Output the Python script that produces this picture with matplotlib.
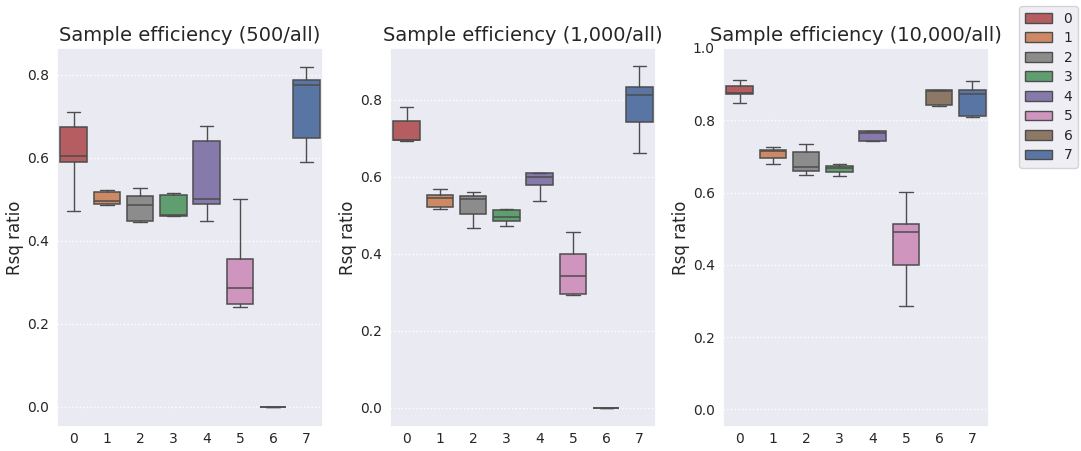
import matplotlib
matplotlib.use("Agg")
import matplotlib.pyplot as plt
import seaborn as sns
from matplotlib.patches import Patch

sns.set_theme(style="darkgrid")
plt.rcParams["font.family"] = ["DejaVu Sans"]

GROUPS = ["0", "1", "2", "3", "4", "5", "6", "7"]
TITLES = ["Sample efficiency (500/all)",
          "Sample efficiency (1,000/all)",
          "Sample efficiency (10,000/all)"]

# box summary per group: whisker low, q1, median, q3, whisker high
whislo_500 = [0.472, 0.485, 0.446, 0.459, 0.447, 0.240, 0.0, 0.590]
q1_500 = [0.589, 0.489, 0.447, 0.460, 0.488, 0.248, 0.0, 0.647]
med_500 = [0.604, 0.496, 0.486, 0.461, 0.501, 0.286, 0.0, 0.775]
q3_500 = [0.674, 0.517, 0.508, 0.510, 0.641, 0.356, 0.0, 0.787]
whishi_500 = [0.711, 0.522, 0.527, 0.514, 0.676, 0.501, 0.0, 0.819]

whislo_1k = [0.694, 0.518, 0.467, 0.472, 0.537, 0.294, 0.0, 0.662]
q1_1k = [0.695, 0.521, 0.503, 0.486, 0.580, 0.295, 0.0, 0.742]
med_1k = [0.695, 0.546, 0.542, 0.497, 0.601, 0.343, 0.0, 0.814]
q3_1k = [0.745, 0.553, 0.550, 0.514, 0.610, 0.399, 0.0, 0.834]
whishi_1k = [0.783, 0.570, 0.560, 0.518, 0.611, 0.458, 0.0, 0.887]

whislo_10k = [0.848, 0.680, 0.650, 0.645, 0.743, 0.286, 0.840, 0.810]
q1_10k = [0.873, 0.696, 0.660, 0.657, 0.744, 0.399, 0.842, 0.811]
med_10k = [0.876, 0.714, 0.671, 0.667, 0.765, 0.491, 0.882, 0.873]
q3_10k = [0.895, 0.719, 0.713, 0.673, 0.769, 0.514, 0.883, 0.883]
whishi_10k = [0.912, 0.725, 0.734, 0.678, 0.771, 0.602, 0.884, 0.910]

deep = sns.color_palette("deep")
palette = [deep[i] for i in [3, 1, 7, 2, 4, 6, 5, 0]]
palette = [sns.desaturate(c, 0.75) for c in palette]

panels = [
    (whislo_500, q1_500, med_500, q3_500, whishi_500, (-0.049, 0.865)),
    (whislo_1k, q1_1k, med_1k, q3_1k, whishi_1k, (-0.049, 0.935)),
    (whislo_10k, q1_10k, med_10k, q3_10k, whishi_10k, (-0.048, 1.0)),
]
lefts = [0.0527, 0.3608, 0.6688]

fig = plt.figure(figsize=(10.81, 4.51), dpi=100)
line_col = "0.3"
for k, (lo, q1, med, q3, hi, ylim) in enumerate(panels):
    ax = fig.add_axes([lefts[k], 0.0536, 0.2461, 0.8400])
    stats = [dict(whislo=lo[i], q1=q1[i], med=med[i], q3=q3[i], whishi=hi[i],
                  fliers=[], label=GROUPS[i]) for i in range(len(GROUPS))]
    bp = ax.bxp(stats, positions=range(len(GROUPS)), widths=0.8,
                patch_artist=True, showfliers=False,
                boxprops=dict(edgecolor=line_col, linewidth=1.1),
                medianprops=dict(color=line_col, linewidth=1.1),
                whiskerprops=dict(color=line_col, linewidth=1.0),
                capprops=dict(color=line_col, linewidth=1.0))
    for patch, c in zip(bp["boxes"], palette):
        patch.set_facecolor(c)
    for cap in bp["caps"]:
        x0, x1 = cap.get_xdata()
        mid = (x0 + x1) / 2
        cap.set_xdata([mid - 0.2, mid + 0.2])
    ax.set_xlim(-0.5, 7.5)
    ax.set_ylim(*ylim)
    ax.set_xticks(range(len(GROUPS)))
    ax.set_xticklabels(GROUPS)
    ax.grid(axis="x", visible=False)
    ax.grid(axis="y", linestyle=":", color="white", linewidth=1.0)
    ax.tick_params(axis="x", labelsize=10, length=0, pad=4)
    ax.tick_params(axis="y", labelsize=10, length=0, pad=6)
    ax.set_title(TITLES[k], fontsize=14, pad=5)
    ax.set_ylabel("Rsq ratio", fontsize=12, labelpad=2)

handles = [Patch(facecolor=c, edgecolor=line_col, label=g)
           for g, c in zip(GROUPS, palette)]
fig.legend(handles=handles, loc="upper right", bbox_to_anchor=(0.9972, 0.9867),
           borderaxespad=0, fontsize=10, handlelength=2.0, labelspacing=0.4,
           borderpad=0.4)

fig.savefig("out.png", dpi=100)
